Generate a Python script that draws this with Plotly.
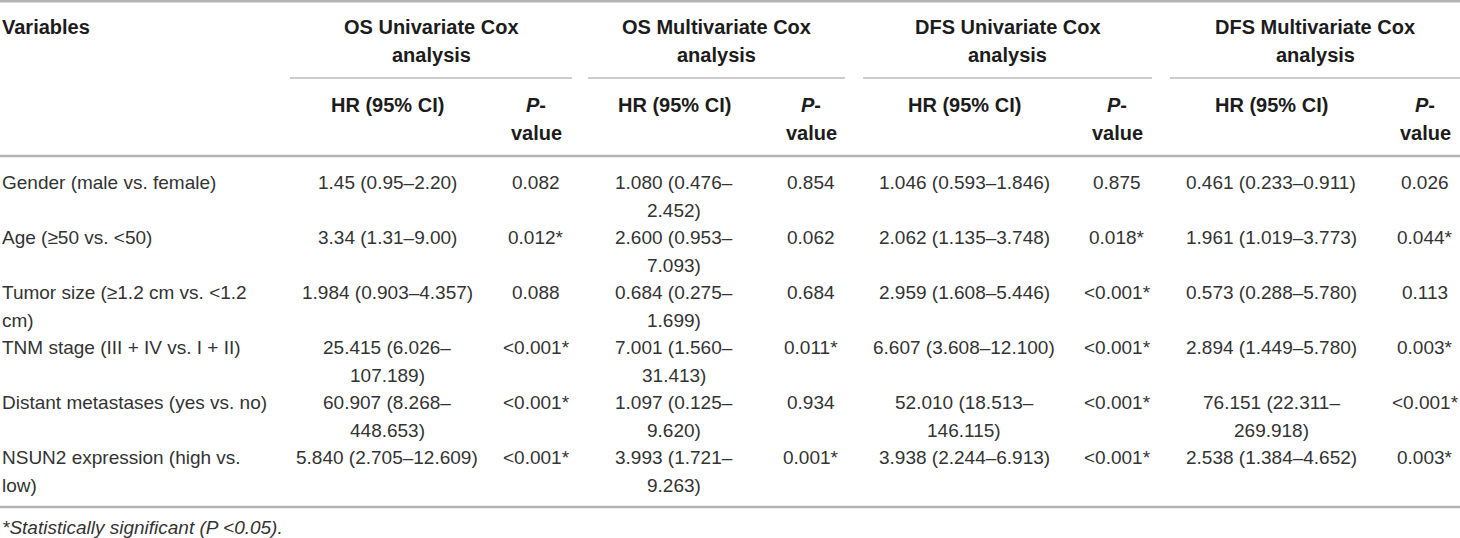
import plotly.graph_objects as go

# table content
variables = [
    "Gender (male vs. female)",
    "Age (≥50 vs. <50)",
    "Tumor size (≥1.2 cm vs. <1.2\ncm)",
    "TNM stage (III + IV vs. I + II)",
    "Distant metastases (yes vs. no)",
    "NSUN2 expression (high vs.\nlow)",
]
os_uni_hr = ["1.45 (0.95–2.20)", "3.34 (1.31–9.00)", "1.984 (0.903–4.357)",
             "25.415 (6.026–\n107.189)", "60.907 (8.268–\n448.653)", "5.840 (2.705–12.609)"]
os_uni_p = ["0.082", "0.012*", "0.088", "<0.001*", "<0.001*", "<0.001*"]
os_multi_hr = ["1.080 (0.476–\n2.452)", "2.600 (0.953–\n7.093)", "0.684 (0.275–\n1.699)",
               "7.001 (1.560–\n31.413)", "1.097 (0.125–\n9.620)", "3.993 (1.721–\n9.263)"]
os_multi_p = ["0.854", "0.062", "0.684", "0.011*", "0.934", "0.001*"]
dfs_uni_hr = ["1.046 (0.593–1.846)", "2.062 (1.135–3.748)", "2.959 (1.608–5.446)",
              "6.607 (3.608–12.100)", "52.010 (18.513–\n146.115)", "3.938 (2.244–6.913)"]
dfs_uni_p = ["0.875", "0.018*", "<0.001*", "<0.001*", "<0.001*", "<0.001*"]
dfs_multi_hr = ["0.461 (0.233–0.911)", "1.961 (1.019–3.773)", "0.573 (0.288–5.780)",
                "2.894 (1.449–5.780)", "76.151 (22.311–\n269.918)", "2.538 (1.384–4.652)"]
dfs_multi_p = ["0.026", "0.044*", "0.113", "0.003*", "<0.001*", "0.003*"]

groups = ["OS Univariate Cox\nanalysis", "OS Multivariate Cox\nanalysis",
          "DFS Univariate Cox\nanalysis", "DFS Multivariate Cox\nanalysis"]
sub_headers = ["HR (95% CI)", "<i>P</i>-\nvalue"]
footnote = "*Statistically significant (P <0.05)."

# layout (pixels)
W, H = 1460, 538
hr_x = [387, 674, 964, 1271]
p_x = [536, 811, 1117, 1425]
group_spans = [(290, 572), (588, 845), (863, 1152), (1170, 1460)]
row_top = 182
row_step = 55
line_step = 28

FONT = "Liberation Sans, Arial, sans-serif"
TXT = "#333333"
BOLD = "#1c1c1c"
LINE = "#b3b3b3"

fig = go.Figure()
annotations = []


def add_text(text, x, y, size=19, bold=False, italic=False, anchor="center"):
    for k, line in enumerate(text.split("\n")):
        t = line
        if italic:
            t = "<i>" + t + "</i>"
        if bold:
            t = "<b>" + t + "</b>"
        annotations.append(dict(
            x=x, y=y + k * line_step, xref="x", yref="y", text=t,
            showarrow=False, xanchor=anchor, yanchor="middle",
            font=dict(family=FONT, size=size, color=BOLD if bold else TXT),
        ))


# header
add_text("Variables", 0, 27, size=20, bold=True, anchor="left")
for g, (a, b) in zip(groups, group_spans):
    add_text(g, (a + b) / 2, 27, size=20, bold=True)
for hx, px_ in zip(hr_x, p_x):
    add_text(sub_headers[0], hx, 105, size=20, bold=True)
    add_text(sub_headers[1], px_, 105, size=20, bold=True)

# body
columns = [(os_uni_hr, os_uni_p), (os_multi_hr, os_multi_p),
           (dfs_uni_hr, dfs_uni_p), (dfs_multi_hr, dfs_multi_p)]
for i, var in enumerate(variables):
    y = row_top + i * row_step
    add_text(var, 0, y, anchor="left")
    for (hr_col, p_col), hx, px_ in zip(columns, hr_x, p_x):
        add_text(hr_col[i], hx, y)
        add_text(p_col[i], px_, y)

add_text(footnote, 0, 527, italic=True, anchor="left")

# rules
shapes = [
    dict(type="line", x0=0, x1=W, y0=1, y1=1, line=dict(color=LINE, width=3)),
    dict(type="line", x0=0, x1=W, y0=156, y1=156, line=dict(color=LINE, width=2.5)),
    dict(type="line", x0=0, x1=W, y0=507, y1=507, line=dict(color=LINE, width=2.5)),
]
for a, b in group_spans:
    shapes.append(dict(type="line", x0=a, x1=b, y0=78, y1=78,
                       line=dict(color="#9a9a9a", width=1.2)))
for s in shapes:
    s.update(xref="x", yref="y")

fig.update_layout(
    width=W, height=H,
    margin=dict(l=0, r=0, t=0, b=0),
    paper_bgcolor="white", plot_bgcolor="white",
    xaxis=dict(range=[0, W], visible=False, fixedrange=True),
    yaxis=dict(range=[H, 0], visible=False, fixedrange=True),
    annotations=annotations,
    shapes=shapes,
    showlegend=False,
)

# drop the default page margin so the table sits at the window's corner
fig.write_html(
    "out.html",
    config={"displayModeBar": False},
    post_script="document.body.style.margin='0';document.body.style.overflow='hidden';",
)
